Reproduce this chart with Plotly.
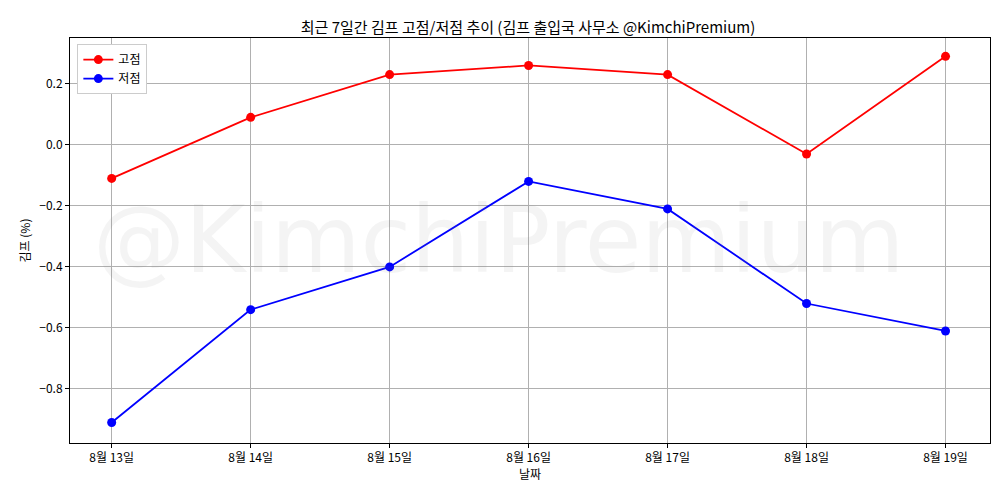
import plotly.graph_objects as go

dates = ["8월 13일", "8월 14일", "8월 15일", "8월 16일", "8월 17일", "8월 18일", "8월 19일"]
highs = [-0.11, 0.09, 0.23, 0.26, 0.23, -0.03, 0.29]
lows = [-0.91, -0.54, -0.40, -0.12, -0.21, -0.52, -0.61]

x = list(range(len(dates)))
fig = go.Figure()
fig.add_trace(go.Scatter(x=x, y=highs, mode="lines+markers", name="고점",
                         line=dict(color="red", width=1.8), marker=dict(size=9, color="red")))
fig.add_trace(go.Scatter(x=x, y=lows, mode="lines+markers", name="저점",
                         line=dict(color="blue", width=1.8), marker=dict(size=9, color="blue")))

fig.add_annotation(text="@KimchiPremium", x=0.466, y=0.5, xref="paper", yref="paper",
                   showarrow=False, font=dict(size=92, color="rgba(128,128,128,0.09)",
                                              family="DejaVu Sans"))

axis = dict(showgrid=True, gridcolor="#b0b0b0", gridwidth=1, zeroline=False,
            showline=True, linecolor="black", mirror=True, ticks="outside",
            ticklen=4, tickcolor="black", tickfont=dict(size=12, color="black"),
            automargin=False)
fig.update_xaxes(**axis, tickvals=x, ticktext=dates, range=[-0.30, 6.32],
                 title=dict(text="날짜", font=dict(size=12), standoff=4))
fig.update_yaxes(**axis, range=[-0.977, 0.35], tickvals=[0.2, 0.0, -0.2, -0.4, -0.6, -0.8],
                 tickformat=".1f", title=dict(text="김프 (%)", font=dict(size=12), standoff=6))
fig.update_layout(
    width=1000, height=500, plot_bgcolor="white", paper_bgcolor="white",
    font=dict(family="Noto Sans CJK KR", color="black"),
    margin=dict(l=62, r=18, t=30, b=65),
    title=dict(text="최근 7일간 김프 고점/저점 추이 (김프 출입국 사무소 @KimchiPremium)",
               x=0.52, xanchor="center", y=0.972, font=dict(size=15)),
    legend=dict(x=0.008, y=0.985, xanchor="left", yanchor="top", bgcolor="white",
                bordercolor="#cccccc", borderwidth=1, font=dict(size=12)),
)
fig.write_html("out.html")
